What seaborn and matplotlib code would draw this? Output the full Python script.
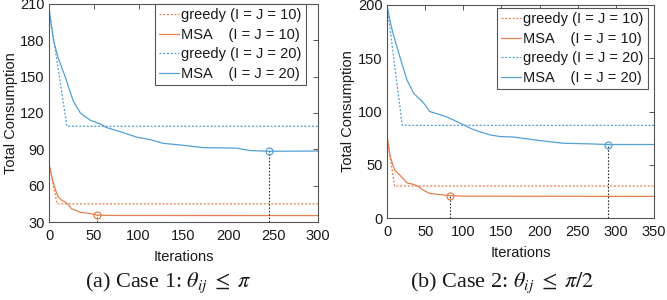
import matplotlib
matplotlib.use('Agg')
import matplotlib.pyplot as plt
import pandas as pd
import seaborn as sns

# data (iteration, total consumption)
# (a) case 1
a_greedy10_x = [0, 9, 300]
a_greedy10_y = [78, 45, 45]
a_msa10_x = [0, 3, 5, 8, 10, 14, 20, 25, 30, 35, 46, 53, 70, 300]
a_msa10_y = [78, 68, 62, 55, 51, 48, 45.5, 41, 39.5, 38, 37, 35.7, 35.4, 35.3]
a_greedy20_x = [0, 20, 300]
a_greedy20_y = [206, 109, 109]
a_msa20_x = [0, 5, 10, 18, 27, 35, 46, 57, 64, 82, 98, 113, 127, 150, 172, 209, 224, 245, 300]
a_msa20_y = [206, 180, 166, 150, 130, 120, 114, 111, 108, 104, 100, 98, 95, 93.3, 91.4, 91, 89, 88.4, 88.6]
a_mark_x = [53, 245]
a_mark_y = [35.7, 88.4]

# (b) case 2
b_greedy10_x = [0, 10, 350]
b_greedy10_y = [77, 30, 30]
b_msa10_x = [0, 4, 10, 20, 26, 35, 40, 48, 56, 70, 82, 100, 350]
b_msa10_y = [77, 58, 45, 38, 33, 31.5, 30, 26, 23, 22, 21, 20.5, 20.3]
b_greedy20_x = [0, 20, 350]
b_greedy20_y = [200, 87, 87]
b_msa20_x = [0, 4, 8, 17, 26, 35, 48, 56, 65, 78, 96, 113, 135, 148, 166, 200, 231, 266, 290, 350]
b_msa20_y = [200, 185, 173, 151, 130, 117, 108, 100, 98, 95, 89, 83, 78, 76.5, 76, 72.7, 70.2, 69.6, 69, 69]
b_mark_x = [82, 290]
b_mark_y = [21, 69]

labels = ['greedy (I = J = 10)', 'MSA    (I = J = 10)',
          'greedy (I = J = 20)', 'MSA    (I = J = 20)']
captions = [r'(a) Case 1: $\theta_{ij}\;\leq\;\pi$', r'(b) Case 2: $\theta_{ij}\;\leq\;\pi/2$']

ORANGE = '#e3804f'
BLUE = '#55a0d5'
DOT = (0, (1.6, 1.4))

sns.set_theme(style='white', rc={'axes.edgecolor': '#555555', 'axes.linewidth': 0.8,
                                 'xtick.color': '#555555', 'ytick.color': '#555555',
                                 'xtick.labelcolor': '#1a1a1a', 'ytick.labelcolor': '#1a1a1a',
                                 'text.color': '#1a1a1a', 'axes.labelcolor': '#1a1a1a'})
plt.rcParams['font.family'] = ['Liberation Sans', 'DejaVu Sans']
plt.rcParams['mathtext.fontset'] = 'stix'


def draw_panel(ax, series, marks, xmax, yticks, leg_anchor):
    colors = [ORANGE, ORANGE, BLUE, BLUE]
    styles = [DOT, '-', DOT, '-']
    for (xs, ys), c, ls, lab in zip(series, colors, styles, labels):
        df = pd.DataFrame({'it': xs, 'val': ys})
        sns.lineplot(data=df, x='it', y='val', ax=ax, color=c, linestyle=ls,
                     linewidth=0.9, label=lab, estimator=None, sort=False)
    mx, my = marks
    ax.vlines(mx, yticks[0], my, colors='#333333', linestyles=(0, (1.5, 1.5)), linewidth=0.8)
    for x, y, c in zip(mx, my, [ORANGE, BLUE]):
        ax.plot([x], [y], marker='o', ms=5, mfc='none', mec=c, mew=0.9)
    ax.set_xlim(0, xmax)
    ax.set_ylim(yticks[0], yticks[-1])
    ax.set_xticks(range(0, xmax + 1, 50))
    ax.set_yticks(yticks)
    ax.tick_params(direction='in', length=3.5, width=0.7, top=True, right=True,
                   labelsize=10.5, pad=3)
    ax.tick_params(axis='x', pad=5)
    ax.set_xlabel('Iterations', fontsize=10.5, labelpad=5)
    ax.set_ylabel('Total Consumption', fontsize=10.5, labelpad=2)
    leg = ax.legend(loc='upper right', bbox_to_anchor=leg_anchor, borderaxespad=0,
                    fontsize=10.5, handlelength=1.35, handletextpad=0.15,
                    labelspacing=0.38, borderpad=0.3, fancybox=False,
                    framealpha=1, edgecolor='#555555')
    leg.get_frame().set_linewidth(0.8)


fig = plt.figure(figsize=(6.67, 3.0), dpi=100)
ax1 = fig.add_axes([49 / 667, 1 - 222 / 300, 269 / 667, 218 / 300])
ax2 = fig.add_axes([387 / 667, 1 - 218 / 300, 267 / 667, 213 / 300])

draw_panel(ax1,
           [(a_greedy10_x, a_greedy10_y), (a_msa10_x, a_msa10_y),
            (a_greedy20_x, a_greedy20_y), (a_msa20_x, a_msa20_y)],
           (a_mark_x, a_mark_y), 300, list(range(30, 211, 30)), (1 - 12 / 269, 1.0))
draw_panel(ax2,
           [(b_greedy10_x, b_greedy10_y), (b_msa10_x, b_msa10_y),
            (b_greedy20_x, b_greedy20_y), (b_msa20_x, b_msa20_y)],
           (b_mark_x, b_mark_y), 350, list(range(0, 201, 50)), (1 - 6 / 267, 1 - 3 / 213))

fig.text(168 / 667, 1 - 283 / 300, captions[0], ha='center', va='center',
         fontsize=16, family=['Liberation Serif', 'DejaVu Serif'])
fig.text(502 / 667, 1 - 283 / 300, captions[1], ha='center', va='center',
         fontsize=16, family=['Liberation Serif', 'DejaVu Serif'])

fig.savefig('out.png', dpi=100)
